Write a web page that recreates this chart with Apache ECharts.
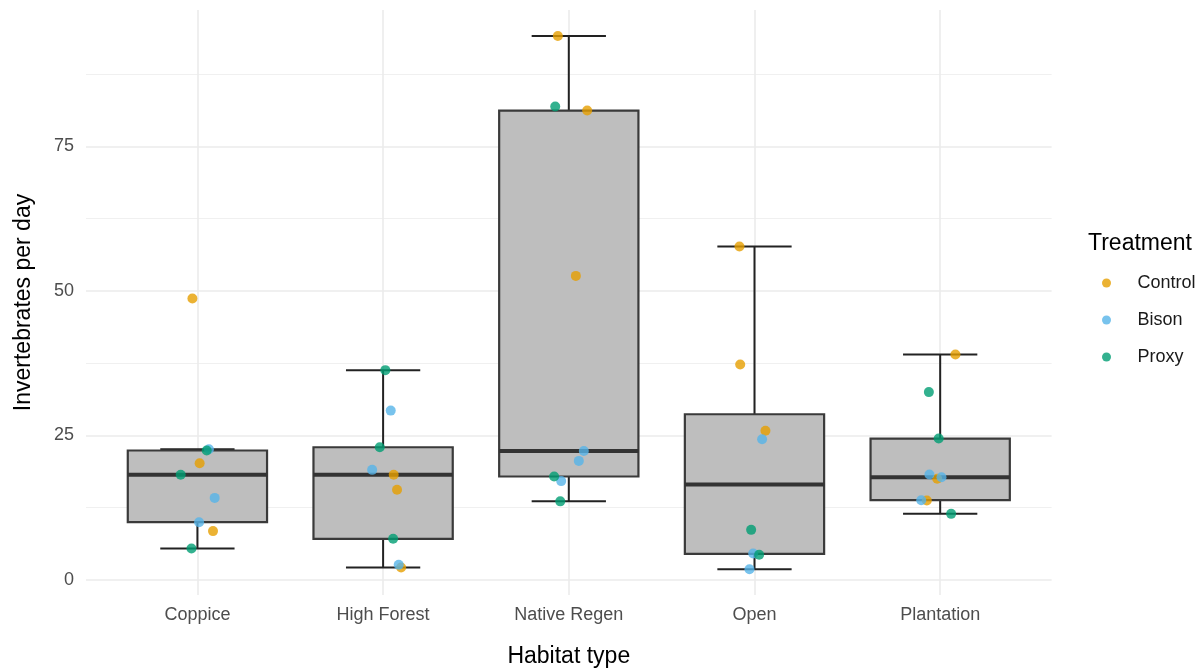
<!DOCTYPE html>
<html>
<head>
<meta charset="utf-8">
<script src="https://cdn.jsdelivr.net/npm/echarts@6/dist/echarts.min.js"></script>
<style>
html,body{margin:0;padding:0;background:#fff;}
#chart{width:1204px;height:669px;}
</style>
</head>
<body>
<div id="chart"></div>
<script>
// ---- data ----
const categories = ['Coppice', 'High Forest', 'Native Regen', 'Open', 'Plantation'];
const yTicks = [0, 25, 50, 75];

// box statistics: lower whisker, Q1, median, Q3, upper whisker
const boxMin    = [5.45, 2.16, 13.6, 1.87, 11.44];
const boxQ1     = [10.0, 7.12, 17.9, 4.52, 13.8];
const boxMedian = [18.2, 18.19, 22.3, 16.5, 17.78];
const boxQ3     = [22.4, 22.96, 81.2, 28.67, 24.46];
const boxMax    = [22.6, 36.3, 94.1, 57.7, 39.0];

// points per category, with horizontal jitter (in category units)
const controlValues = [[48.7, 20.2, 8.45], [18.19, 15.6, 2.16], [94.1, 81.2, 52.6], [57.7, 37.26, 25.8], [39.0, 17.5, 13.74]];
const controlJitter = [[-0.027, 0.012, 0.084], [0.057, 0.075, 0.097], [-0.059, 0.099, 0.038], [-0.081, -0.077, 0.059], [0.082, -0.016, -0.072]];
const bisonValues   = [[22.6, 14.2, 10.0], [29.3, 19.05, 2.63], [22.3, 20.6, 17.1], [24.35, 4.58, 1.87], [18.24, 17.78, 13.8]];
const bisonJitter   = [[0.062, 0.093, 0.009], [0.041, -0.059, 0.084], [0.081, 0.054, -0.041], [0.041, -0.007, -0.027], [-0.058, 0.007, -0.102]];
const proxyValues   = [[22.4, 18.2, 5.45], [36.3, 22.96, 7.12], [81.9, 17.9, 13.6], [8.67, 4.35], [32.5, 24.46, 11.44]];
const proxyJitter   = [[0.050, -0.090, -0.032], [0.012, -0.018, 0.054], [-0.073, -0.079, -0.046], [-0.018, 0.025], [-0.061, -0.008, 0.059]];

// ---- build ----
function pts(vals, jit) {
  const out = [];
  vals.forEach((arr, i) => arr.forEach((v, k) => out.push([i + 1 + jit[i][k], v])));
  return out;
}
const boxData = categories.map((c, i) => [i + 1, boxMin[i], boxQ1[i], boxMedian[i], boxQ3[i], boxMax[i]]);

const FONT = "'Liberation Sans', Arial, Helvetica, sans-serif";
const chart = echarts.init(document.getElementById('chart'), null, {renderer: 'canvas'});

function renderBox(params, api) {
  const x = api.value(0);
  const pMin = api.coord([x, api.value(1)]);
  const pQ1 = api.coord([x, api.value(2)]);
  const pMed = api.coord([x, api.value(3)]);
  const pQ3 = api.coord([x, api.value(4)]);
  const pMax = api.coord([x, api.value(5)]);
  const boxW = api.size([0.75, 0])[0];
  const capW = api.size([0.4, 0])[0];
  const cx = pMed[0];
  const wStyle = {stroke: '#222', lineWidth: 2};
  return {
    type: 'group',
    children: [
      {type: 'line', shape: {x1: cx, y1: pQ3[1], x2: cx, y2: pMax[1]}, style: wStyle},
      {type: 'line', shape: {x1: cx, y1: pMin[1], x2: cx, y2: pQ1[1]}, style: wStyle},
      {type: 'line', shape: {x1: cx - capW / 2, y1: pMax[1], x2: cx + capW / 2, y2: pMax[1]}, style: wStyle},
      {type: 'line', shape: {x1: cx - capW / 2, y1: pMin[1], x2: cx + capW / 2, y2: pMin[1]}, style: wStyle},
      {type: 'rect', shape: {x: cx - boxW / 2, y: pQ3[1], width: boxW, height: pQ1[1] - pQ3[1]},
        style: {fill: '#BEBEBE', stroke: '#3a3a3a', lineWidth: 2.2}},
      {type: 'line', shape: {x1: cx - boxW / 2, y1: pMed[1], x2: cx + boxW / 2, y2: pMed[1]},
        style: {stroke: '#333', lineWidth: 4}}
    ]
  };
}

const pointStyle = (c) => ({color: c, opacity: 0.8});

chart.setOption({
  animation: false,
  textStyle: {fontFamily: FONT},
  grid: {left: 86, right: 152.4, top: 10, bottom: 74, containLabel: false, outerBoundsMode: 'none'},
  xAxis: {
    type: 'value', min: 0.4, max: 5.6, minInterval: 1, maxInterval: 1,
    name: 'Habitat type', nameLocation: 'middle', nameGap: 50,
    nameTextStyle: {fontSize: 23, color: '#000', fontFamily: FONT},
    axisLine: {show: false}, axisTick: {show: false},
    axisLabel: {
      fontSize: 18, color: '#4D4D4D', margin: 11, fontFamily: FONT,
      showMinLabel: false, showMaxLabel: false,
      formatter: function (v) {
        const r = Math.round(v);
        return (Math.abs(v - r) < 1e-6 && categories[r - 1]) ? categories[r - 1] : '';
      }
    },
    splitLine: {show: true, showMinLine: false, showMaxLine: false, lineStyle: {color: '#EBEBEB', width: 1.6}}
  },
  yAxis: {
    type: 'value', min: -2.6, max: 98.6, minInterval: 25, maxInterval: 25,
    name: 'Invertebrates per day', nameLocation: 'middle', nameGap: 51, nameRotate: 90,
    nameTextStyle: {fontSize: 23, color: '#000', fontFamily: FONT},
    axisLine: {show: false}, axisTick: {show: false},
    axisLabel: {
      fontSize: 18, color: '#4D4D4D', margin: 12, fontFamily: FONT,
      showMinLabel: false, showMaxLabel: false,
      formatter: function (v) { return yTicks.indexOf(v) >= 0 ? String(v) : ''; }
    },
    splitLine: {show: true, showMinLine: false, showMaxLine: false, lineStyle: {color: '#EBEBEB', width: 1.6}},
    minorTick: {show: false, splitNumber: 2},
    minorSplitLine: {show: true, lineStyle: {color: '#F0F0F0', width: 1}}
  },
  legend: {
    data: ['Control', 'Bison', 'Proxy'],
    orient: 'vertical', left: 1102, top: 274, padding: 0,
    itemWidth: 52, itemHeight: 9, itemGap: 19, icon: 'circle',
    textStyle: {fontSize: 18, color: '#1a1a1a', fontFamily: FONT, padding: [0, 0, 0, 0]},
    selectedMode: false
  },
  graphic: [{
    type: 'text', left: 1088, top: 232,
    style: {text: 'Treatment', font: '23px ' + FONT, fill: '#000'}
  }],
  series: [
    {type: 'custom', name: 'box', renderItem: renderBox, data: boxData, encode: {x: 0, y: [1, 2, 3, 4, 5]}, z: 2, clip: false, silent: true},
    {type: 'scatter', name: 'Control', data: pts(controlValues, controlJitter), symbolSize: 10, itemStyle: pointStyle('#E69F00'), z: 5},
    {type: 'scatter', name: 'Bison', data: pts(bisonValues, bisonJitter), symbolSize: 10, itemStyle: pointStyle('#56B4E9'), z: 5},
    {type: 'scatter', name: 'Proxy', data: pts(proxyValues, proxyJitter), symbolSize: 10, itemStyle: pointStyle('#009E73'), z: 5}
  ]
});
</script>
</body>
</html>
